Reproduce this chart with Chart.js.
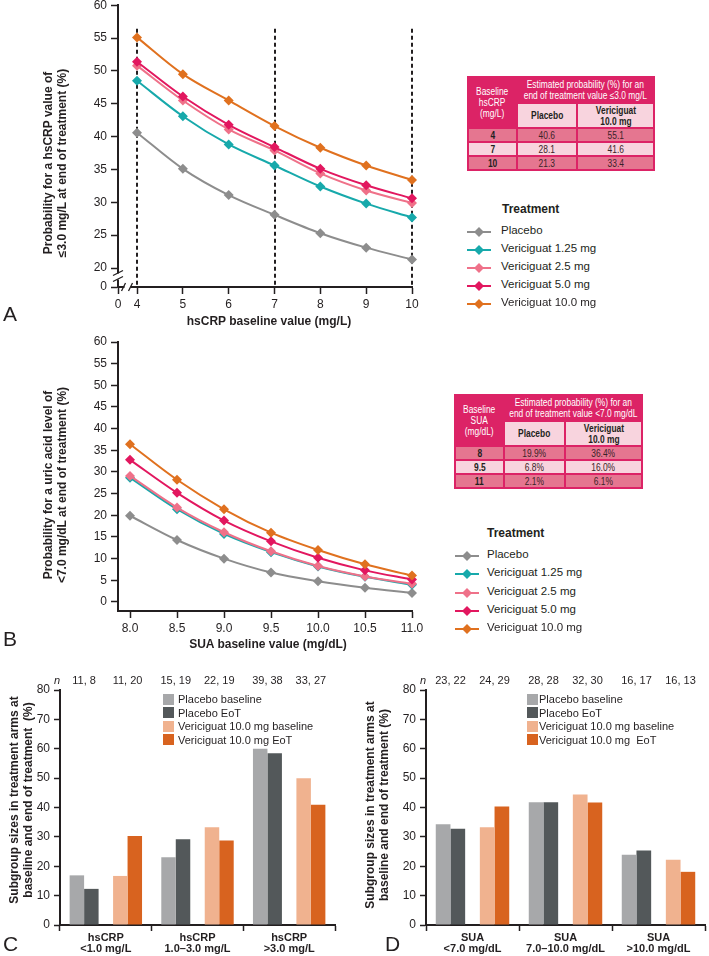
<!DOCTYPE html>
<html>
<head>
<meta charset="utf-8">
<title>Vericiguat hsCRP / SUA</title>
<script src="https://cdn.jsdelivr.net/npm/chart.js@4.4.1/dist/chart.umd.min.js"></script>
<style>
  body { margin: 0; width: 709px; height: 956px; position: relative; overflow: hidden; background: #fff;
         font-family: 'Liberation Sans', Arial, sans-serif; color: #231f20; }
  canvas { position: absolute; }
  .lbl { position: absolute; white-space: nowrap; font-size: 11.5px; line-height: 14px; }
  .letter { position: absolute; font-size: 21px; line-height: 21px; }
  .xtitle { position: absolute; font-weight: bold; font-size: 12px; line-height: 14px; transform: translate(-50%, -50%); white-space: nowrap; }
  .ytitle { position: absolute; font-weight: bold; font-size: 12px; line-height: 14px; transform: translate(-50%, -50%) rotate(-90deg); white-space: nowrap; text-align: center; }
  table.est { position: absolute; border-collapse: separate; border-spacing: 2px; background: #dc2366; table-layout: fixed; width: 188px;
              font-size: 10px; line-height: 11px; text-align: center; color: #3b2328; }
  table.est td, table.est th { padding: 0; overflow: visible; }
  table.est th { color: #fff; font-weight: normal; }
  table.est th.sub { background: #f8d4de; font-weight: bold; color: #231f20; height: 23px; }
  table.est tr.r0 td { background: #e57690; height: 12px; }
  table.est tr.r1 td { background: #f8d4de; height: 12px; }
  table.est td.b { font-weight: bold; color: #231f20; }
  /* squeeze the table text like a narrow face */
  table.est span { display: inline-block; white-space: nowrap; margin: 0 -30px; transform: scaleX(0.84); }
</style>
</head>
<body>
<canvas id="chartA" width="440" height="326" style="left:0;top:-6px"></canvas>
<canvas id="chartB" width="440" height="310" style="left:0;top:330px"></canvas>
<canvas id="chartC" width="350" height="286" style="left:0;top:670px"></canvas>
<canvas id="chartD" width="359" height="286" style="left:350px;top:670px"></canvas>

<div class="letter" style="left:3px;top:303px">A</div>
<div class="letter" style="left:3px;top:628px">B</div>
<div class="letter" style="left:3px;top:933px">C</div>
<div class="letter" style="left:385px;top:933px">D</div>

<div class="ytitle" style="left:55px;top:163px">Probability for a hsCRP value of<br>≤3.0 mg/L at end of treatment (%)</div>
<div class="ytitle" style="left:55px;top:485px">Probability for a uric acid level of<br>&lt;7.0 mg/dL at end of treatment (%)</div>
<div class="ytitle" style="left:21px;top:800px">Subgroup sizes in treatment arms at<br>baseline and end of treatment&nbsp; (%)</div>
<div class="ytitle" style="left:377px;top:805px">Subgroup sizes in treatment arms at<br>baseline and end of treatment (%)</div>
<div class="xtitle" style="left:269px;top:321px">hsCRP baseline value (mg/L)</div>
<div class="xtitle" style="left:268px;top:644px">SUA baseline value (mg/dL)</div>

<table class="est" id="tableA" style="left:467px;top:76px">
  <colgroup><col style="width:47px"><col style="width:58px"><col style="width:75px"></colgroup>
  <tr><th rowspan="2"><span>Baseline<br>hsCRP<br>(mg/L)</span></th><th colspan="2" style="height:24px"><span>Estimated probability (%) for an<br>end of treatment value ≤3.0 mg/L</span></th></tr>
  <tr><th class="sub"><span>Placebo</span></th><th class="sub"><span>Vericiguat<br>10.0 mg</span></th></tr>
</table>
<table class="est" id="tableB" style="left:454px;top:394px">
  <colgroup><col style="width:47px"><col style="width:59px"><col style="width:75px"></colgroup>
  <tr><th rowspan="2"><span>Baseline<br>SUA<br>(mg/dL)</span></th><th colspan="2" style="height:24px"><span>Estimated probability (%) for an<br>end of treatment value &lt;7.0 mg/dL</span></th></tr>
  <tr><th class="sub"><span>Placebo</span></th><th class="sub"><span>Vericiguat<br>10.0 mg</span></th></tr>
</table>

<script>
// ---- data ----
const treatments = ['Placebo', 'Vericiguat 1.25 mg', 'Vericiguat 2.5 mg', 'Vericiguat 5.0 mg', 'Vericiguat 10.0 mg'];
const lineColors = ['#8d8d8d', '#17a9ab', '#ef7189', '#e2175f', '#e0711f'];

// panel A: hsCRP baseline (mg/L) vs probability (%)
const hsCrpValues = [4, 5, 6, 7, 8, 9, 10];
const hsCrpPlacebo = [40.6, 35.1, 31.1, 28.1, 25.3, 23.1, 21.3];
const hsCrpVeri125 = [48.5, 43.1, 38.8, 35.6, 32.4, 29.8, 27.7];
const hsCrpVeri25 = [50.8, 45.5, 41.1, 37.9, 34.4, 31.8, 29.9];
const hsCrpVeri50 = [51.4, 46.1, 41.8, 38.4, 35.1, 32.6, 30.6];
const hsCrpVeri100 = [55.1, 49.5, 45.5, 41.6, 38.3, 35.6, 33.4];
const hsCrpYTicks = [20, 25, 30, 35, 40, 45, 50, 55, 60];

// panel B: SUA baseline (mg/dL) vs probability (%)
const suaValues = [8.0, 8.5, 9.0, 9.5, 10.0, 10.5, 11.0];
const suaPlacebo = [19.9, 14.3, 10.0, 6.8, 4.8, 3.3, 2.1];
const suaVeri125 = [28.7, 21.4, 15.7, 11.5, 8.2, 5.8, 4.0];
const suaVeri25 = [29.1, 21.8, 16.1, 11.7, 8.3, 5.9, 4.2];
const suaVeri50 = [32.8, 25.2, 18.8, 14.0, 10.2, 7.3, 5.2];
const suaVeri100 = [36.4, 28.2, 21.4, 16.0, 12.0, 8.7, 6.1];
const suaYTicks = [0, 5, 10, 15, 20, 25, 30, 35, 40, 45, 50, 55, 60];

// tables
const tableABaseline = ['4', '7', '10'];
const tableAPlacebo = ['40.6', '28.1', '21.3'];
const tableAVeri = ['55.1', '41.6', '33.4'];
const tableBBaseline = ['8', '9.5', '11'];
const tableBPlacebo = ['19.9%', '6.8%', '2.1%'];
const tableBVeri = ['36.4%', '16.0%', '6.1%'];

// panels C / D: subgroup sizes (%)
const barLabels = ['Placebo baseline', 'Placebo EoT', 'Vericiguat 10.0 mg baseline', 'Vericiguat 10.0 mg EoT'];
const barLabelsD = ['Placebo baseline', 'Placebo EoT', 'Vericiguat 10.0 mg baseline', 'Vericiguat 10.0 mg\u00a0 EoT'];
const barColors = ['#a7a8aa', '#53585a', '#f0b28f', '#d8631f'];
const barYTicks = [0, 10, 20, 30, 40, 50, 60, 70, 80];

const hsCrpGroups = [['hsCRP', '<1.0 mg/L'], ['hsCRP', '1.0–3.0 mg/L'], ['hsCRP', '>3.0 mg/L']];
const hsCrpPlaceboBase = [16.9, 23.1, 60.0];
const hsCrpPlaceboEot = [12.3, 29.2, 58.5];
const hsCrpVeriBase = [16.7, 33.3, 50.0];
const hsCrpVeriEot = [30.3, 28.8, 40.9];
const hsCrpN = [['11, 8', '11, 20'], ['15, 19', '22, 19'], ['39, 38', '33, 27']];

const suaGroups = [['SUA', '<7.0 mg/dL'], ['SUA', '7.0–10.0 mg/dL'], ['SUA', '>10.0 mg/dL']];
const suaPlaceboBase = [34.3, 41.8, 23.9];
const suaPlaceboEot = [32.8, 41.8, 25.4];
const suaVeriBase = [33.3, 44.4, 22.2];
const suaVeriEot = [40.3, 41.7, 18.1];
const suaN = [['23, 22', '24, 29'], ['28, 28', '32, 30'], ['16, 17', '16, 13']];

// axis ranges (broken axis in A: min values stand for the "0" labels)
const xMinA = 3.585, yMinA = 17.11;
const xMinB = 7.872, yMinB = -2.08;

// ---- setup ----
Chart.defaults.font.family = "'Liberation Sans', Arial, sans-serif";
Chart.defaults.font.size = 12;
Chart.defaults.color = '#231f20';
Chart.defaults.animation = false;

const ink = '#231f20';

function fixedTicks(values) {
    return scale => { scale.ticks = values.map(v => ({ value: v })); };
}

function axisLook(tickLen) {
    return {
        border: { display: true, color: ink, width: 2 },
        grid: { drawOnChartArea: false, drawTicks: true, tickLength: tickLen, tickColor: ink, tickWidth: 1.5 }
    };
}

// dashed cut-off lines and axis breaks in panel A
const hsCrpMarks = {
    id: 'hsCrpMarks',
    beforeDatasetsDraw(chart) {
        const { ctx, scales: { x, y }, chartArea: a } = chart;
        ctx.save();
        ctx.strokeStyle = ink;
        ctx.lineWidth = 2;
        ctx.setLineDash([4, 3]);
        tableABaseline.map(Number).forEach(v => {
            const px = Math.round(x.getPixelForValue(v));
            ctx.beginPath();
            ctx.moveTo(px, y.getPixelForValue(56.4));
            ctx.lineTo(px, a.bottom);
            ctx.stroke();
        });
        ctx.restore();
    },
    afterDraw(chart) {
        const { ctx, scales: { x, y }, chartArea: a } = chart;
        ctx.save();
        ctx.fillStyle = '#fff';
        ctx.strokeStyle = ink;
        ctx.lineWidth = 1.3;
        const yb = (y.getPixelForValue(20) + a.bottom) / 2 - 1;
        ctx.fillRect(a.left - 2, yb - 3, 4, 6);
        ctx.beginPath();
        ctx.moveTo(a.left - 5, yb - 1); ctx.lineTo(a.left + 5, yb - 6);
        ctx.moveTo(a.left - 5, yb + 5); ctx.lineTo(a.left + 5, yb);
        ctx.stroke();
        const xb = (a.left + x.getPixelForValue(4)) / 2;
        ctx.fillRect(xb - 3, a.bottom - 2, 6, 4);
        ctx.beginPath();
        ctx.moveTo(xb - 6, a.bottom + 4); ctx.lineTo(xb - 2, a.bottom - 4);
        ctx.moveTo(xb + 1, a.bottom + 4); ctx.lineTo(xb + 5, a.bottom - 4);
        ctx.stroke();
        ctx.restore();
    }
};

// "n" counts above the bar pairs
const nLabels = {
    id: 'nLabels',
    afterDraw(chart, args, opts) {
        const { ctx, chartArea: a } = chart;
        const m = [0, 1, 3, 4].map(i => chart.getDatasetMeta(i));
        ctx.save();
        ctx.fillStyle = ink;
        ctx.textBaseline = 'middle';
        ctx.textAlign = 'right';
        ctx.font = "italic 11px 'Liberation Sans', Arial, sans-serif";
        ctx.fillText('n', a.left, opts.y);
        ctx.textAlign = 'center';
        ctx.font = "11px 'Liberation Sans', Arial, sans-serif";
        opts.counts.forEach((pair, i) => {
            ctx.fillText(pair[0], (m[0].data[i].x + m[1].data[i].x) / 2, opts.y);
            ctx.fillText(pair[1], (m[2].data[i].x + m[3].data[i].x) / 2, opts.y);
        });
        ctx.restore();
    }
};

function lineChart(id, xs, series, cfg) {
    return new Chart(document.getElementById(id), {
        type: 'line',
        data: {
            datasets: series.map((ys, i) => ({
                label: treatments[i],
                data: xs.map((x, j) => ({ x: x, y: ys[j] })),
                borderColor: lineColors[i],
                backgroundColor: lineColors[i],
                borderWidth: 2,
                pointStyle: 'rectRot',
                pointRadius: 5,
                pointBorderWidth: 0,
                cubicInterpolationMode: 'monotone',
                order: series.length - i,
                clip: false
            }))
        },
        options: {
            responsive: false,
            animation: false,
            layout: { padding: { top: cfg.padTop, right: 28, bottom: 0, left: 0 } },
            plugins: { legend: { display: false }, tooltip: { enabled: false } },
            scales: {
                x: {
                    type: 'linear', min: cfg.xMin, max: cfg.xMax,
                    afterBuildTicks: fixedTicks(cfg.xTicks),
                    afterFit: s => { s.height = cfg.xHeight; },
                    ticks: { autoSkip: false, maxRotation: 0, padding: 3, callback: cfg.xLabel },
                    ...axisLook(7)
                },
                y: {
                    type: 'linear', min: cfg.yMin, max: 60,
                    afterBuildTicks: fixedTicks(cfg.yTicks),
                    afterFit: s => { s.width = 118; },
                    ticks: { autoSkip: false, padding: 4, callback: cfg.yLabel },
                    ...axisLook(7)
                }
            }
        },
        plugins: cfg.plugins || []
    });
}

lineChart('chartA', hsCrpValues, [hsCrpPlacebo, hsCrpVeri125, hsCrpVeri25, hsCrpVeri50, hsCrpVeri100], {
    padTop: 11, xHeight: 33,
    xMin: xMinA, xMax: 10, xTicks: [xMinA].concat(hsCrpValues), xLabel: v => v === xMinA ? '0' : v,
    yMin: yMinA, yTicks: [yMinA].concat(hsCrpYTicks), yLabel: v => v === yMinA ? '0' : v,
    plugins: [hsCrpMarks]
});

lineChart('chartB', suaValues, [suaPlacebo, suaVeri125, suaVeri25, suaVeri50, suaVeri100], {
    padTop: 12, xHeight: 29,
    xMin: xMinB, xMax: 11, xTicks: suaValues, xLabel: v => v.toFixed(1),
    yMin: yMinB, yTicks: suaYTicks, yLabel: v => v
});

function barChart(id, groups, values, counts, yWidth, padRight) {
    const sets = values.map((vals, i) => ({ label: barLabels[i], data: vals, backgroundColor: barColors[i] }));
    sets.splice(2, 0, { label: '', data: groups.map(() => null) }); // gap between the placebo and vericiguat pairs
    return new Chart(document.getElementById(id), {
        type: 'bar',
        data: { labels: groups, datasets: sets },
        options: {
            responsive: false,
            animation: false,
            layout: { padding: { top: 20, right: padRight, bottom: 0, left: 0 } },
            datasets: { bar: { categoryPercentage: 0.79, barPercentage: 1.0 } },
            plugins: { legend: { display: false }, tooltip: { enabled: false }, nLabels: { counts: counts, y: 11 } },
            scales: {
                x: {
                    afterFit: s => { s.height = 31; },
                    ticks: { autoSkip: false, maxRotation: 0, padding: 1, font: { size: 11, weight: 'bold', lineHeight: 1.0 } },
                    ...axisLook(6)
                },
                y: {
                    min: 0, max: 80,
                    afterBuildTicks: fixedTicks(barYTicks),
                    afterFit: s => { s.width = yWidth; },
                    ticks: { autoSkip: false, padding: 4 },
                    ...axisLook(6)
                }
            }
        },
        plugins: [nLabels]
    });
}

barChart('chartC', hsCrpGroups, [hsCrpPlaceboBase, hsCrpPlaceboEot, hsCrpVeriBase, hsCrpVeriEot], hsCrpN, 60, 15);
barChart('chartD', suaGroups, [suaPlaceboBase, suaPlaceboEot, suaVeriBase, suaVeriEot], suaN, 76, 4);

// ---- html text: legends and tables ----
function addLabel(text, left, centerY, extra) {
    const d = document.createElement('div');
    d.className = 'lbl';
    d.textContent = text;
    d.style.left = left + 'px';
    d.style.top = (centerY - 7) + 'px';
    if (extra) Object.assign(d.style, extra);
    document.body.appendChild(d);
    return d;
}

function lineLegend(titleLeft, titleY, firstY, step, markerLeft, textLeft) {
    addLabel('Treatment', titleLeft, titleY, { fontWeight: 'bold', fontSize: '12px' });
    treatments.forEach((name, i) => {
        const cy = firstY + i * step;
        const c = lineColors[i];
        const m = document.createElement('div');
        m.style.cssText = `position:absolute;left:${markerLeft}px;top:${cy - 6}px;width:24px;height:12px`;
        m.innerHTML = `<svg width="24" height="12"><line x1="0" y1="6" x2="24" y2="6" stroke="${c}" stroke-width="2"/>` +
            `<path d="M12 1 L17 6 L12 11 L7 6 Z" fill="${c}"/></svg>`;
        document.body.appendChild(m);
        addLabel(name, textLeft, cy);
    });
}
lineLegend(502, 209, 230, 18.1, 467, 501);
lineLegend(487, 533, 554, 18.3, 455, 487);

function barLegend(labels, boxLeft, textLeft, firstY, step) {
    labels.forEach((name, i) => {
        const cy = firstY + i * step;
        const b = document.createElement('div');
        b.style.cssText = `position:absolute;left:${boxLeft}px;top:${cy - 5.5}px;width:11px;height:11px;background:${barColors[i]}`;
        document.body.appendChild(b);
        addLabel(name, textLeft, cy, { fontSize: '11px' });
    });
}
barLegend(barLabels, 163, 178, 699, 13.5);
barLegend(barLabelsD, 527, 539, 699, 13.5);

function fillTable(id, base, plac, veri) {
    const t = document.getElementById(id);
    base.forEach((b, i) => {
        const tr = document.createElement('tr');
        tr.className = i % 2 === 0 ? 'r0' : 'r1';
        tr.innerHTML = `<td class="b"><span>${b}</span></td><td><span>${plac[i]}</span></td><td><span>${veri[i]}</span></td>`;
        t.appendChild(tr);
    });
}
fillTable('tableA', tableABaseline, tableAPlacebo, tableAVeri);
fillTable('tableB', tableBBaseline, tableBPlacebo, tableBVeri);
</script>
</body>
</html>
